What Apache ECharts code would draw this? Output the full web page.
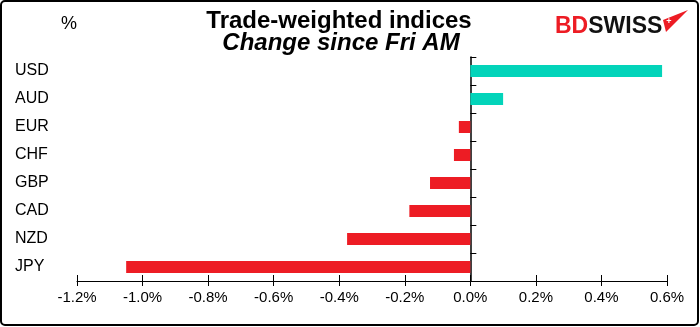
<!DOCTYPE html>
<html>
<head>
<meta charset="utf-8">
<script src="https://cdn.jsdelivr.net/npm/echarts@6/dist/echarts.min.js"></script>
<style>
  html, body { margin: 0; padding: 0; background: #fff; }
  #chart { width: 700px; height: 327px; }
</style>
</head>
<body>
<div id="chart"></div>
<script>
// Currencies, top to bottom
const currencies = ['USD', 'AUD', 'EUR', 'CHF', 'GBP', 'CAD', 'NZD', 'JPY'];
// Change since Friday morning, %
const changes = [0.585, 0.10, -0.035, -0.05, -0.123, -0.186, -0.376, -1.05];
const xTicks = { min: -1.2, max: 0.6, step: 0.2 };

const UP = '#03D4BA';
const DOWN = '#ED1C24';

const chart = echarts.init(document.getElementById('chart'), null, { renderer: 'canvas' });

const grid = { left: 77, top: 57, width: 590, height: 224 };
const pctFmt = v => v.toFixed(1) + '%';

chart.setOption({
  animation: false,
  backgroundColor: '#fff',
  grid: grid,
  xAxis: [
    {
      type: 'value', min: xTicks.min, max: xTicks.max, interval: xTicks.step,
      splitLine: { show: false },
      axisLine: { show: true, lineStyle: { color: '#000', width: 1 } },
      axisTick: { show: true, length: 5, lineStyle: { color: '#000' } },
      axisLabel: { formatter: pctFmt, color: '#000', fontFamily: 'Liberation Sans, Arial', fontSize: 15, margin: 9 }
    },
    {
      type: 'value', min: xTicks.min, max: xTicks.max, interval: xTicks.step, position: 'bottom',
      splitLine: { show: false },
      axisLine: { show: false },
      axisTick: { show: true, inside: true, length: 6, lineStyle: { color: '#000' } },
      axisLabel: { show: false }
    }
  ],
  yAxis: [
    {
      type: 'category', data: currencies, inverse: true,
      axisLine: { show: true, onZero: true, lineStyle: { color: '#000', width: 1.5 } },
      axisTick: { show: true, inside: true, length: 6, lineStyle: { color: '#000' } },
      axisLabel: { show: false }
    },
    {
      type: 'category', data: currencies, inverse: true, position: 'left',
      axisLine: { show: false }, axisTick: { show: false },
      axisLabel: { align: 'left', margin: 62, color: '#000', fontFamily: 'Liberation Sans, Arial', fontSize: 16 }
    }
  ],
  series: [{
    type: 'bar',
    xAxisIndex: 0, yAxisIndex: 0,
    data: changes.map(v => ({ value: v, itemStyle: { color: v >= 0 ? UP : DOWN } })),
    barWidth: 12
  }],
  graphic: [
    { type: 'rect', shape: { x: 1, y: 1, width: 697, height: 324, r: 4 }, style: { fill: 'none', stroke: '#000', lineWidth: 2 }, z: 10 },
    { type: 'text', x: 339, y: 9, style: { text: 'Trade-weighted indices', font: 'bold 24px "Liberation Sans", Arial', fill: '#000', align: 'center' } },
    { type: 'text', x: 341, y: 31, style: { text: 'Change since Fri AM', font: 'italic bold 24px "Liberation Sans", Arial', fill: '#000', align: 'center' } },
    { type: 'text', left: 61, top: 15, style: { text: '%', font: '18px "Liberation Sans", Arial', fill: '#000' } },
    { type: 'text', left: 555, top: 15, style: { text: '{b|BD}{s|SWISS}', rich: {
        b: { font: 'bold 23px "Liberation Sans", Arial', fill: '#ED1C24' },
        s: { font: 'bold 23px "Liberation Sans", Arial', fill: '#111' } } } },
    { type: 'polygon', shape: { points: [[688, 10], [663, 20], [666, 32]] }, style: { fill: '#ED1C24' } },
    { type: 'text', x: 669, y: 22, style: { text: '+', font: 'bold 9px "Liberation Sans", Arial', fill: '#fff', align: 'center', verticalAlign: 'middle' } }
  ]
});
</script>
</body>
</html>
